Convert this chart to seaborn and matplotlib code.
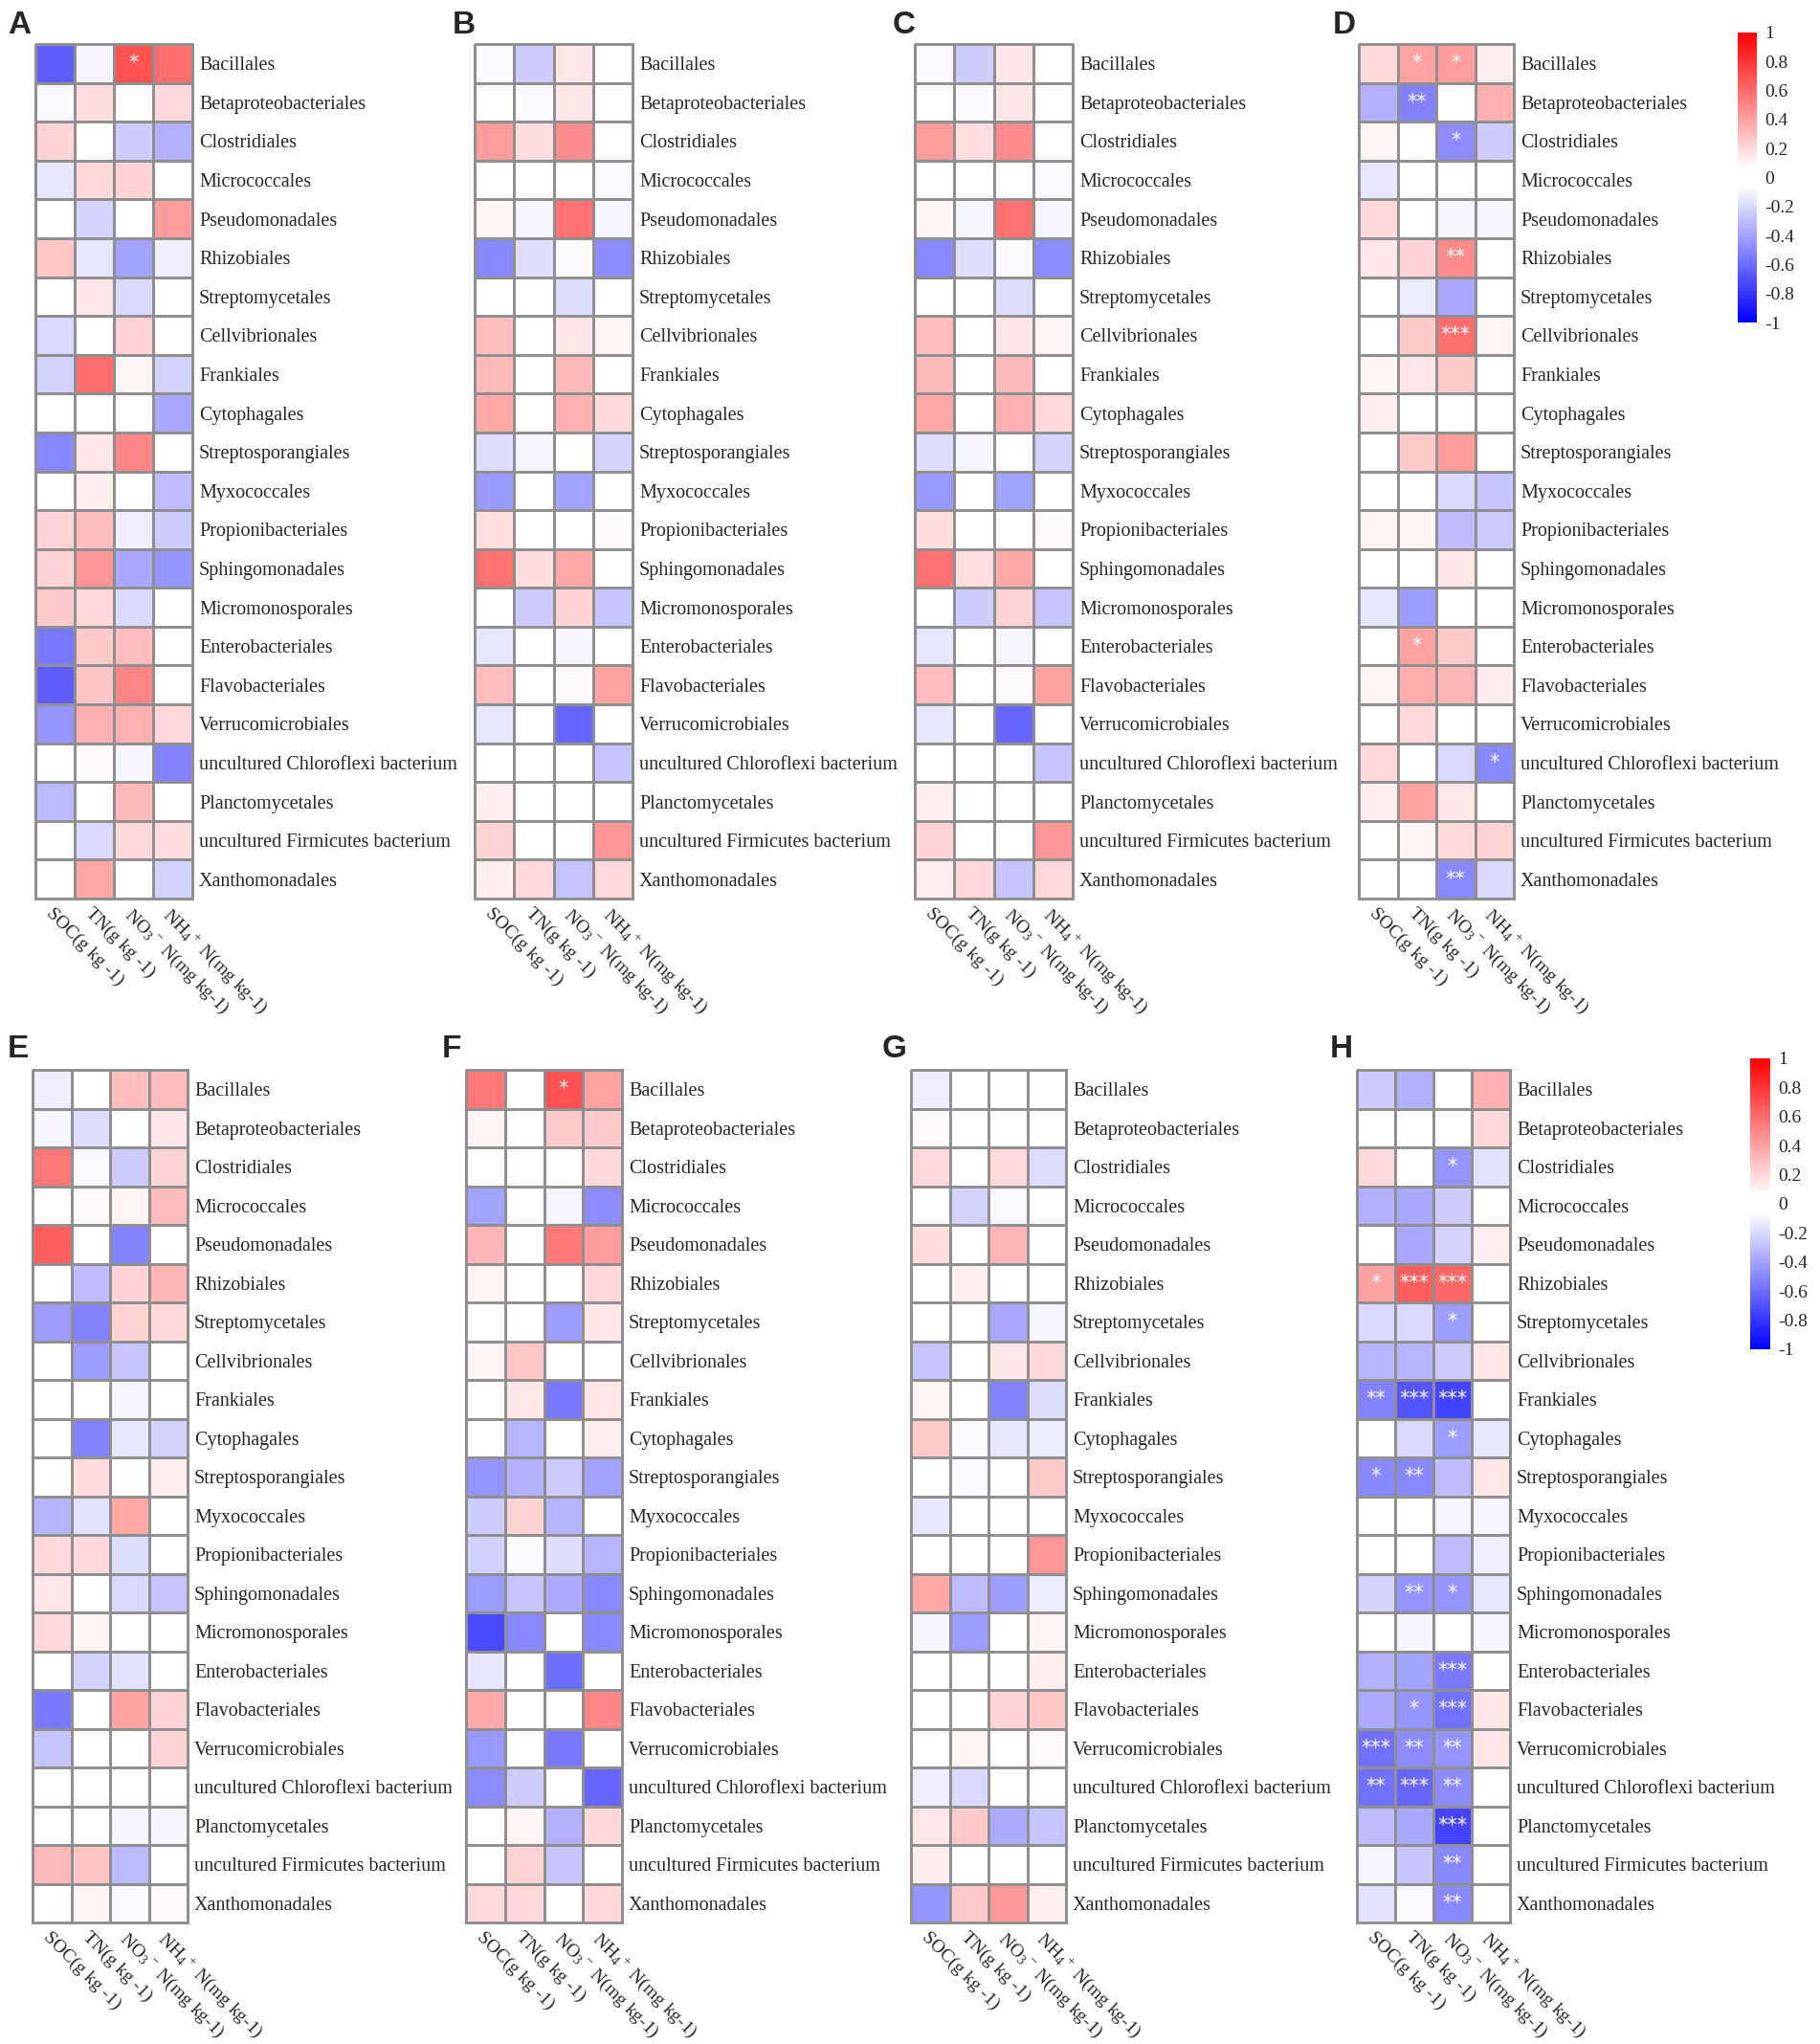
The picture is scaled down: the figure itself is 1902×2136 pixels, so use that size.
import numpy as np
import matplotlib
matplotlib.use("Agg")
import matplotlib.pyplot as plt
import seaborn as sns
from matplotlib.colors import LinearSegmentedColormap

# ======================================
# Data (correlations)
# ======================================

orders = [
    "Bacillales", "Betaproteobacteriales", "Clostridiales", "Micrococcales",
    "Pseudomonadales", "Rhizobiales", "Streptomycetales", "Cellvibrionales",
    "Frankiales", "Cytophagales", "Streptosporangiales", "Myxococcales",
    "Propionibacteriales", "Sphingomonadales", "Micromonosporales",
    "Enterobacteriales", "Flavobacteriales", "Verrucomicrobiales",
    "uncultured Chloroflexi bacterium", "Planctomycetales",
    "uncultured Firmicutes bacterium", "Xanthomonadales",
]

soil_vars = ["SOC(g kg -1)", "TN(g kg -1)",
             r"NO$_3$$^-$ N(mg kg-1)", r"NH$_4$$^+$ N(mg kg-1)"]

vals_A = [
    [-0.65, -0.10, 0.70, 0.60],
    [-0.08, 0.18, 0.07, 0.20],
    [0.22, -0.04, -0.25, -0.35],
    [-0.15, 0.20, 0.22, 0.00],
    [0.03, -0.22, 0.00, 0.42],
    [0.27, -0.15, -0.40, -0.12],
    [0.00, 0.15, -0.20, -0.05],
    [-0.20, 0.00, 0.22, 0.00],
    [-0.22, 0.60, 0.10, -0.22],
    [-0.05, 0.02, 0.02, -0.38],
    [-0.50, 0.15, 0.50, 0.00],
    [0.00, 0.12, 0.00, -0.30],
    [0.22, 0.30, -0.12, -0.25],
    [0.22, 0.45, -0.38, -0.45],
    [0.25, 0.20, -0.20, 0.00],
    [-0.55, 0.25, 0.30, 0.00],
    [-0.65, 0.28, 0.50, 0.00],
    [-0.45, 0.35, 0.35, 0.20],
    [0.00, 0.08, -0.10, -0.52],
    [-0.32, 0.07, 0.32, 0.00],
    [-0.07, -0.20, 0.20, 0.18],
    [0.00, 0.38, 0.00, -0.22],
]
stars_A = [(0, 2, "*")]

vals_B = [
    [-0.08, -0.25, 0.15, 0.00],
    [-0.03, -0.08, 0.15, -0.06],
    [0.42, 0.18, 0.48, 0.05],
    [-0.04, 0.00, 0.00, -0.08],
    [0.10, -0.10, 0.58, -0.10],
    [-0.50, -0.18, -0.08, -0.48],
    [0.00, 0.00, -0.18, 0.00],
    [0.30, 0.00, 0.15, 0.10],
    [0.32, 0.06, 0.32, 0.00],
    [0.38, 0.00, 0.35, 0.20],
    [-0.18, -0.10, 0.07, -0.22],
    [-0.43, -0.07, -0.40, -0.04],
    [0.18, -0.03, -0.02, 0.08],
    [0.58, 0.18, 0.38, 0.06],
    [-0.05, -0.25, 0.22, -0.28],
    [-0.15, -0.05, -0.10, 0.03],
    [0.30, 0.06, 0.08, 0.40],
    [-0.15, 0.00, -0.62, 0.00],
    [0.00, 0.00, 0.00, -0.28],
    [0.12, 0.00, -0.05, 0.03],
    [0.22, 0.07, 0.00, 0.45],
    [0.12, 0.20, -0.28, 0.20],
]
stars_B = []

# panel C shows the same values as panel B
vals_C = vals_B
stars_C = []

vals_D = [
    [0.20, 0.40, 0.42, 0.12],
    [-0.35, -0.52, 0.00, 0.35],
    [0.10, 0.00, -0.48, -0.25],
    [-0.15, 0.00, 0.00, 0.00],
    [0.20, 0.06, -0.10, -0.10],
    [0.15, 0.22, 0.48, -0.03],
    [0.00, -0.13, -0.38, -0.03],
    [0.00, 0.25, 0.60, 0.10],
    [0.10, 0.15, 0.25, -0.03],
    [0.12, 0.00, 0.00, 0.00],
    [0.00, 0.25, 0.42, 0.00],
    [-0.06, 0.00, -0.20, -0.27],
    [0.10, 0.10, -0.30, -0.25],
    [0.00, 0.00, 0.15, 0.00],
    [-0.15, -0.42, 0.00, 0.04],
    [0.00, 0.40, 0.25, 0.00],
    [0.10, 0.36, 0.33, 0.13],
    [0.02, 0.20, 0.00, 0.00],
    [0.20, 0.02, -0.20, -0.50],
    [0.12, 0.40, 0.15, 0.00],
    [0.00, 0.10, 0.20, 0.22],
    [0.00, 0.00, -0.50, -0.20],
]
stars_D = [(0, 1, "*"), (0, 2, "*"), (1, 1, "**"), (2, 2, "*"), (5, 2, "**"),
           (7, 2, "***"), (15, 1, "*"), (18, 3, "*"), (21, 2, "**")]

vals_E = [
    [-0.12, 0.00, 0.30, 0.30],
    [-0.10, -0.18, 0.00, 0.15],
    [0.55, -0.08, -0.25, 0.22],
    [0.00, 0.08, 0.10, 0.30],
    [0.65, 0.00, -0.52, -0.03],
    [-0.06, -0.30, 0.22, 0.33],
    [-0.42, -0.52, 0.22, 0.20],
    [0.03, -0.42, -0.27, 0.00],
    [0.02, 0.00, -0.10, 0.00],
    [0.04, -0.52, -0.15, -0.22],
    [0.00, 0.18, 0.00, 0.12],
    [-0.33, -0.17, 0.38, 0.00],
    [0.20, 0.20, -0.18, -0.02],
    [0.15, 0.00, -0.20, -0.27],
    [0.20, 0.10, -0.07, 0.00],
    [0.02, -0.22, -0.17, -0.07],
    [-0.55, 0.00, 0.40, 0.22],
    [-0.27, 0.00, 0.00, 0.22],
    [0.00, 0.00, -0.05, 0.00],
    [0.00, 0.02, -0.10, -0.10],
    [0.32, 0.28, -0.32, -0.06],
    [0.00, 0.10, -0.08, 0.08],
]
stars_E = []

vals_F = [
    [0.55, 0.06, 0.70, 0.40],
    [0.10, 0.00, 0.25, 0.25],
    [0.00, 0.00, 0.00, 0.20],
    [-0.40, -0.03, -0.10, -0.48],
    [0.33, -0.04, 0.55, 0.42],
    [0.10, 0.00, 0.05, 0.20],
    [-0.05, 0.00, -0.42, 0.15],
    [0.10, 0.27, -0.03, -0.03],
    [0.00, 0.15, -0.55, 0.15],
    [-0.05, -0.33, 0.00, 0.12],
    [-0.45, -0.35, -0.25, -0.40],
    [-0.25, 0.22, -0.33, 0.05],
    [-0.23, -0.08, -0.18, -0.33],
    [-0.42, -0.27, -0.37, -0.50],
    [-0.72, -0.50, -0.05, -0.50],
    [-0.15, -0.05, -0.60, -0.03],
    [0.37, 0.05, 0.00, 0.50],
    [-0.43, -0.05, -0.55, -0.06],
    [-0.48, -0.25, 0.00, -0.62],
    [0.00, 0.10, -0.35, 0.20],
    [0.00, 0.22, -0.27, 0.00],
    [0.20, 0.20, 0.00, 0.20],
]
stars_F = [(0, 2, "*")]

vals_G = [
    [-0.12, 0.00, 0.00, -0.04],
    [0.08, 0.00, 0.00, 0.00],
    [0.20, 0.00, 0.20, -0.18],
    [-0.07, -0.22, -0.08, 0.00],
    [0.18, 0.07, 0.33, -0.02],
    [0.00, 0.12, 0.00, 0.00],
    [0.00, 0.00, -0.38, -0.10],
    [-0.27, -0.03, 0.15, 0.20],
    [0.10, 0.00, -0.52, -0.18],
    [0.25, -0.08, -0.15, -0.13],
    [0.00, -0.08, 0.00, 0.25],
    [-0.15, -0.04, 0.00, -0.03],
    [0.02, 0.00, -0.03, 0.45],
    [0.38, -0.30, -0.42, -0.13],
    [-0.10, -0.42, 0.00, 0.10],
    [-0.03, -0.03, 0.00, 0.12],
    [-0.06, 0.00, 0.22, 0.27],
    [0.00, 0.10, -0.07, 0.08],
    [-0.12, -0.20, -0.06, 0.00],
    [0.15, 0.25, -0.37, -0.28],
    [0.13, -0.02, -0.06, 0.00],
    [-0.45, 0.25, 0.43, 0.12],
]
stars_G = []

vals_H = [
    [-0.25, -0.35, 0.00, 0.35],
    [0.00, 0.00, 0.07, 0.20],
    [0.20, 0.00, -0.45, -0.17],
    [-0.35, -0.38, -0.25, 0.00],
    [0.00, -0.38, -0.22, 0.12],
    [0.40, 0.65, 0.62, 0.00],
    [-0.20, -0.20, -0.42, 0.00],
    [-0.33, -0.33, -0.25, 0.15],
    [-0.52, -0.68, -0.75, 0.07],
    [0.00, -0.20, -0.42, -0.15],
    [-0.50, -0.50, -0.30, 0.15],
    [-0.05, 0.02, -0.10, -0.10],
    [0.00, -0.07, -0.30, -0.12],
    [-0.22, -0.45, -0.45, -0.15],
    [-0.04, -0.10, 0.00, -0.10],
    [-0.35, -0.40, -0.55, 0.00],
    [-0.37, -0.45, -0.58, 0.15],
    [-0.58, -0.48, -0.45, 0.15],
    [-0.58, -0.62, -0.48, 0.00],
    [-0.30, -0.38, -0.75, 0.00],
    [-0.10, -0.28, -0.50, 0.00],
    [-0.17, -0.08, -0.50, 0.00],
]
stars_H = [(2, 2, "*"), (5, 0, "*"), (5, 1, "***"), (5, 2, "***"), (6, 2, "*"),
           (8, 0, "**"), (8, 1, "***"), (8, 2, "***"), (9, 2, "*"),
           (10, 0, "*"), (10, 1, "**"), (13, 1, "**"), (13, 2, "*"),
           (15, 2, "***"), (16, 1, "*"), (16, 2, "***"),
           (17, 0, "***"), (17, 1, "**"), (17, 2, "**"),
           (18, 0, "**"), (18, 1, "***"), (18, 2, "**"),
           (19, 2, "***"), (20, 2, "**"), (21, 2, "**")]

cbar_ticks = [1, 0.8, 0.6, 0.4, 0.2, 0, -0.2, -0.4, -0.6, -0.8, -1]
cbar_labels = ["1", "0.8", "0.6", "0.4", "0.2", "0", "-0.2", "-0.4", "-0.6", "-0.8", "-1"]

# ======================================
# Style
# ======================================

sns.set_style("white")
plt.rcParams["font.family"] = ["Liberation Serif", "DejaVu Serif"]
plt.rcParams["mathtext.fontset"] = "custom"
plt.rcParams["mathtext.rm"] = "Liberation Serif"
plt.rcParams["mathtext.it"] = "Liberation Serif:italic"
plt.rcParams["mathtext.default"] = "rm"

cmap = LinearSegmentedColormap.from_list(
    "bwr_band", [(0.0, "#0000ff"), (0.47, "#ffffff"), (0.53, "#ffffff"), (1.0, "#ff0000")])

W, H = 1902, 2136
fig = plt.figure(figsize=(W / 100, H / 100), dpi=100)

# heatmap boxes in pixels: left, top, right, bottom
boxes = {
    "A": (37, 46, 201, 939), "B": (496, 46, 661, 939),
    "C": (956, 46, 1121, 939), "D": (1420, 46, 1582, 939),
    "E": (34, 1118, 196, 2009), "F": (487, 1118, 650, 2009),
    "G": (952, 1118, 1114, 2009), "H": (1418, 1118, 1578, 2009),
}
letters = {"A": (8, 11), "B": (473, 11), "C": (933, 11), "D": (1393, 11),
           "E": (8, 1081), "F": (462, 1081), "G": (922, 1081), "H": (1390, 1081)}
cbars = {"D": (1816, 34, 1836, 337), "H": (1829, 1106, 1850, 1410)}

panels = [("A", vals_A, stars_A), ("B", vals_B, stars_B), ("C", vals_C, stars_C),
          ("D", vals_D, stars_D), ("E", vals_E, stars_E), ("F", vals_F, stars_F),
          ("G", vals_G, stars_G), ("H", vals_H, stars_H)]


def px_rect(l, t, r, b):
    return [l / W, 1 - b / H, (r - l) / W, (b - t) / H]


for key, vals, stars in panels:
    ax = fig.add_axes(px_rect(*boxes[key]))
    lab = np.full((len(orders), len(soil_vars)), "", dtype=object)
    for r, c, s in stars:
        lab[r, c] = s
    sns.heatmap(np.array(vals), ax=ax, cmap=cmap, vmin=-1, vmax=1, cbar=False,
                linewidths=2, linecolor="#8f8f8f", annot=lab, fmt="",
                annot_kws={"color": "white", "fontsize": 15, "family": "DejaVu Sans"},
                xticklabels=soil_vars, yticklabels=orders)
    ax.collections[0].set_clip_on(False)
    ax.yaxis.tick_right()
    ax.tick_params(axis="y", length=0, pad=5, labelsize=14.5, labelrotation=0)
    ax.tick_params(axis="x", length=0, pad=5, labelsize=14)
    plt.setp(ax.get_xticklabels(), rotation=-45, ha="left", va="top",
             rotation_mode="anchor")

    lx, ly = letters[key]
    fig.text(lx / W, 1 - ly / H, key, fontsize=24, fontweight="bold",
             family="Liberation Sans", va="top", ha="left")

    if key in cbars:
        cax = fig.add_axes(px_rect(*cbars[key]))
        cb = fig.colorbar(ax.collections[0], cax=cax)
        cb.outline.set_visible(False)
        cb.set_ticks(cbar_ticks)
        cb.set_ticklabels(cbar_labels)
        cax.tick_params(length=0, labelsize=14, pad=6)

fig.savefig("out.png", dpi=100, facecolor="white")
